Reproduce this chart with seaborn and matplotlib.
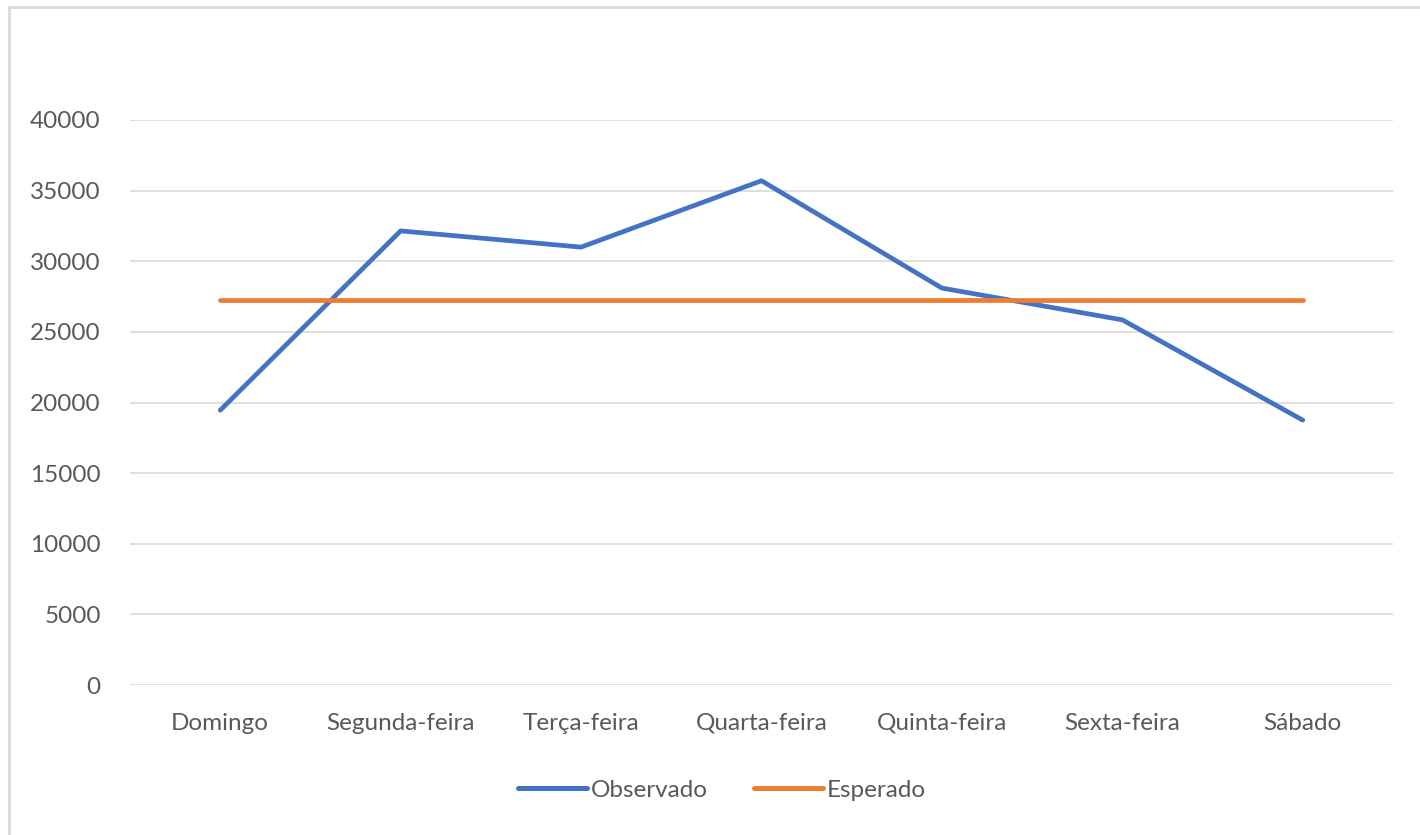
import pandas as pd
import seaborn as sns
import matplotlib.pyplot as plt
from matplotlib.lines import Line2D

# Data
dias = ["Domingo", "Segunda-feira", "Terça-feira", "Quarta-feira",
        "Quinta-feira", "Sexta-feira", "Sábado"]
observado = [19450, 32150, 31000, 35700, 28100, 25850, 18750]
esperado = [27290] * 7
yticks = [0, 5000, 10000, 15000, 20000, 25000, 30000, 35000, 40000]

sns.set_style("white")
plt.rcParams["font.family"] = ["Lato", "DejaVu Sans"]
text_color = "#595959"
font_size = 17.5

df = pd.concat([
    pd.DataFrame({"Dia": dias, "Valor": observado, "Série": "Observado"}),
    pd.DataFrame({"Dia": dias, "Valor": esperado, "Série": "Esperado"}),
])
df["pos"] = df["Dia"].map({d: i for i, d in enumerate(dias)})

fig = plt.figure(figsize=(14.2, 8.35), dpi=100)
ax = fig.add_axes([130 / 1420, 1 - 685 / 835, (1393 - 130) / 1420, (685 - 120) / 835])

sns.lineplot(
    data=df, x="pos", y="Valor", hue="Série",
    palette={"Observado": "#4472C4", "Esperado": "#ED7D31"},
    linewidth=3.4, ax=ax, legend=False, sort=False,
)
for line in ax.lines:
    line.set_solid_capstyle("round")
    line.set_solid_joinstyle("round")

ax.set_xlim(-0.5, 6.5)
ax.set_ylim(0, 40000)
ax.set_xticks(range(len(dias)))
ax.set_xticklabels(dias)
ax.set_yticks(yticks)
ax.set_yticklabels([str(v) for v in yticks])
ax.set_xlabel("")
ax.set_ylabel("")
ax.tick_params(axis="both", length=0, labelsize=font_size, colors=text_color)
ax.tick_params(axis="y", pad=21)
ax.tick_params(axis="x", pad=20)
ax.yaxis.grid(True, color="#D9D9D9", linewidth=1.2)
ax.set_axisbelow(True)
sns.despine(ax=ax, left=True, bottom=True)

# Legend at the bottom
handles = [
    Line2D([], [], color="#4472C4", linewidth=3.6, solid_capstyle="round"),
    Line2D([], [], color="#ED7D31", linewidth=3.6, solid_capstyle="round"),
]
leg = fig.legend(handles, ["Observado", "Esperado"], loc="center",
                 bbox_to_anchor=(722 / 1420, 1 - 790 / 835), ncol=2,
                 frameon=False, fontsize=font_size, handlelength=2.85,
                 handletextpad=0.15, columnspacing=1.9)
for t in leg.get_texts():
    t.set_color(text_color)

# Chart frame (top and left edges visible)
fig.add_artist(Line2D([9 / 1420, 9 / 1420], [0, 1 - 7 / 835],
                      transform=fig.transFigure, color="#D9D9D9", linewidth=2))
fig.add_artist(Line2D([9 / 1420, 1], [1 - 7 / 835, 1 - 7 / 835],
                      transform=fig.transFigure, color="#D9D9D9", linewidth=2))

plt.savefig("out.png", dpi=100)
